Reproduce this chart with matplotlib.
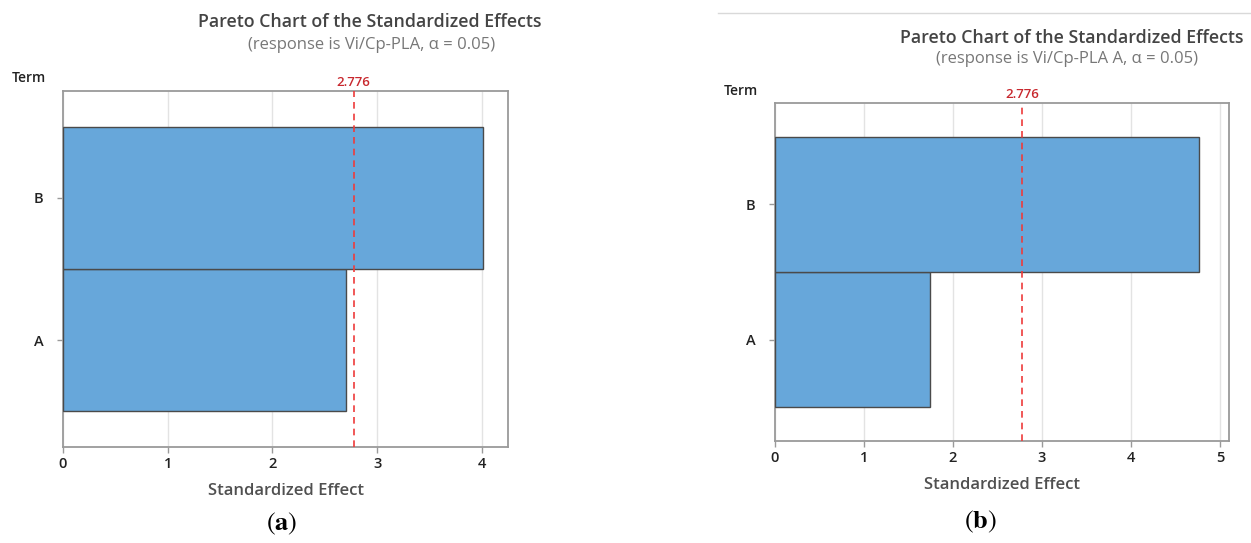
import matplotlib
matplotlib.use("Agg")
import matplotlib.pyplot as plt
from matplotlib.lines import Line2D

terms = ["A", "B"]
effects_a = [2.70, 4.01]
effects_b = [1.74, 4.76]
t_crit = 2.776
xticks_a = [0, 1, 2, 3, 4]
xticks_b = [0, 1, 2, 3, 4, 5]
subtitle_a = "(response is Vi/Cp-PLA, \u03b1 = 0.05)"
subtitle_b = "(response is Vi/Cp-PLA A, \u03b1 = 0.05)"
title = "Pareto Chart of the Standardized Effects"

plt.rcParams['font.family'] = ['Open Sans', 'DejaVu Sans']
plt.rcParams['mathtext.fontset'] = 'stix'

W, H = 1251, 543
fig = plt.figure(figsize=(W / 100, H / 100), dpi=100)

BAR = "#67A7DA"
EDGE = "#4a4a4a"
SPINE = "#9a9a9a"
GRID = "#e3e3e3"
RED = "#ee3b3b"
REDTXT = "#c8282e"


def px(x, y):
    return x / W, 1 - y / H


def panel(rect_px, effects, xticks, xmax, title_xy, sub_xy, term_xy, cap_xy, cap, subtitle):
    l, t, r, b = rect_px
    ax = fig.add_axes([l / W, 1 - b / H, (r - l) / W, (b - t) / H])
    ypos = list(range(len(terms)))
    ax.barh(ypos, effects, height=1.0, color=BAR, edgecolor=EDGE, linewidth=1.0, zorder=3)
    ax.set_xlim(0, xmax)
    ax.set_ylim(-0.75, 1.75)
    ax.set_yticks(ypos)
    ax.set_yticklabels(terms)
    ax.set_xticks(xticks)
    ax.set_xticklabels([str(v) for v in xticks])
    ax.grid(axis='x', color=GRID, linewidth=1.0, zorder=0)
    ax.axvline(t_crit, color=RED, linestyle=(0, (4, 3)), linewidth=1.2, zorder=4)
    ax.text(t_crit, 1.005, f"{t_crit:.3f}", transform=ax.get_xaxis_transform(),
            ha='center', va='bottom', color=REDTXT, fontsize=9.5, fontweight='semibold')
    for s in ax.spines.values():
        s.set_color(SPINE)
        s.set_linewidth(1.3)
    ax.tick_params(axis='both', colors=SPINE, labelcolor='#222222', labelsize=10.5,
                   length=4, width=1)
    for lab in ax.get_xticklabels() + ax.get_yticklabels():
        lab.set_fontweight('semibold')
    ax.tick_params(axis='y', pad=10)
    ax.set_xlabel("Standardized Effect", fontsize=12, color='#505050', labelpad=8,
                  fontweight='semibold')
    fig.text(*px(*title_xy), title, ha='center', va='center', fontsize=12.8,
             fontweight='semibold', color='#444444')
    fig.text(*px(*sub_xy), subtitle, ha='center', va='center', fontsize=12, color='#777777')
    fig.text(*px(*term_xy), "Term", ha='left', va='center', fontsize=10,
             fontweight='semibold', color='#222222')
    fig.text(*px(*cap_xy), cap, ha='center', va='center', fontsize=19, color='black')
    return ax


panel((63, 91, 508, 447), effects_a, xticks_a, 4.25, (370, 22), (372, 45), (12, 78),
      (282, 524), r"$(\mathbf{a})$", subtitle_a)
panel((775, 103, 1229, 441), effects_b, xticks_b, 5.10, (1072, 38), (1067, 59), (724, 91),
      (980, 522), r"$(\mathbf{b})$", subtitle_b)

fig.add_artist(Line2D([718 / W, 1.0], [1 - 13 / H, 1 - 13 / H], color='#d9d9d9', linewidth=1.0))

fig.savefig("out.png", dpi=100)
